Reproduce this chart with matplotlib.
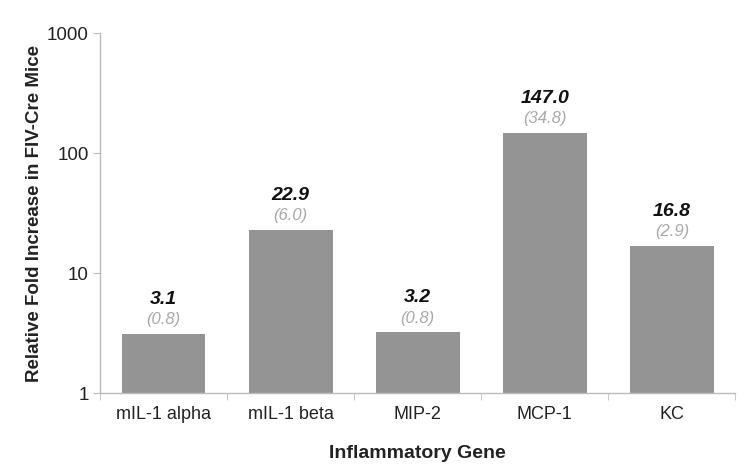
import matplotlib
matplotlib.use("Agg")
import matplotlib.pyplot as plt
import numpy as np

genes = ["mIL-1 alpha", "mIL-1 beta", "MIP-2", "MCP-1", "KC"]
fold = [3.1, 22.9, 3.2, 147.0, 16.8]
sem = [0.8, 6.0, 0.8, 34.8, 2.9]
yticks = [1, 10, 100, 1000]

plt.rcParams['font.family'] = ['Liberation Sans', 'DejaVu Sans']

fig = plt.figure(figsize=(7.52, 4.73), dpi=100)
ax = fig.add_axes([0.133, 0.169, 0.845, 0.761])

x = np.arange(len(genes))
ax.bar(x, fold, width=0.66, color="#949494", bottom=0)
ax.set_yscale("log")
ax.set_ylim(1, 1000)
ax.set_xlim(-0.5, len(genes) - 0.5)
ax.set_yticks(yticks)
ax.set_yticklabels([str(v) for v in yticks])
ax.yaxis.set_minor_locator(matplotlib.ticker.NullLocator())

ax.set_xticks(x)
ax.set_xticklabels(genes)
ax.tick_params(axis="x", length=0, pad=9, labelsize=13, colors="#222222")
ax.set_xticks(np.arange(len(genes) + 1) - 0.5, minor=True)
ax.tick_params(axis="x", which="minor", length=5, color="#bbbbbb", direction="out")
ax.tick_params(axis="y", length=5, color="#bbbbbb", labelsize=13.5, colors="#222222", pad=3)

for s in ["top", "right"]:
    ax.spines[s].set_visible(False)
for s in ["left", "bottom"]:
    ax.spines[s].set_color("#bbbbbb")
    ax.spines[s].set_linewidth(1)

for xi, v, e in zip(x, fold, sem):
    ax.annotate(f"({e:.1f})", (xi, v), xytext=(0, 5), textcoords="offset points",
                ha="center", va="bottom", fontsize=12, style="italic", color="#a8a8a8")
    ax.annotate(f"{v:.1f}", (xi, v), xytext=(0, 19), textcoords="offset points",
                ha="center", va="bottom", fontsize=14, style="italic", fontweight="bold", color="#111111")

ax.set_xlabel("Inflammatory Gene", fontsize=14, fontweight="bold", labelpad=16, color="#222222")
ax.set_ylabel("Relative Fold Increase in FIV-Cre Mice", fontsize=13.5, fontweight="bold", labelpad=3, color="#222222")

fig.savefig("out.png", dpi=100)
